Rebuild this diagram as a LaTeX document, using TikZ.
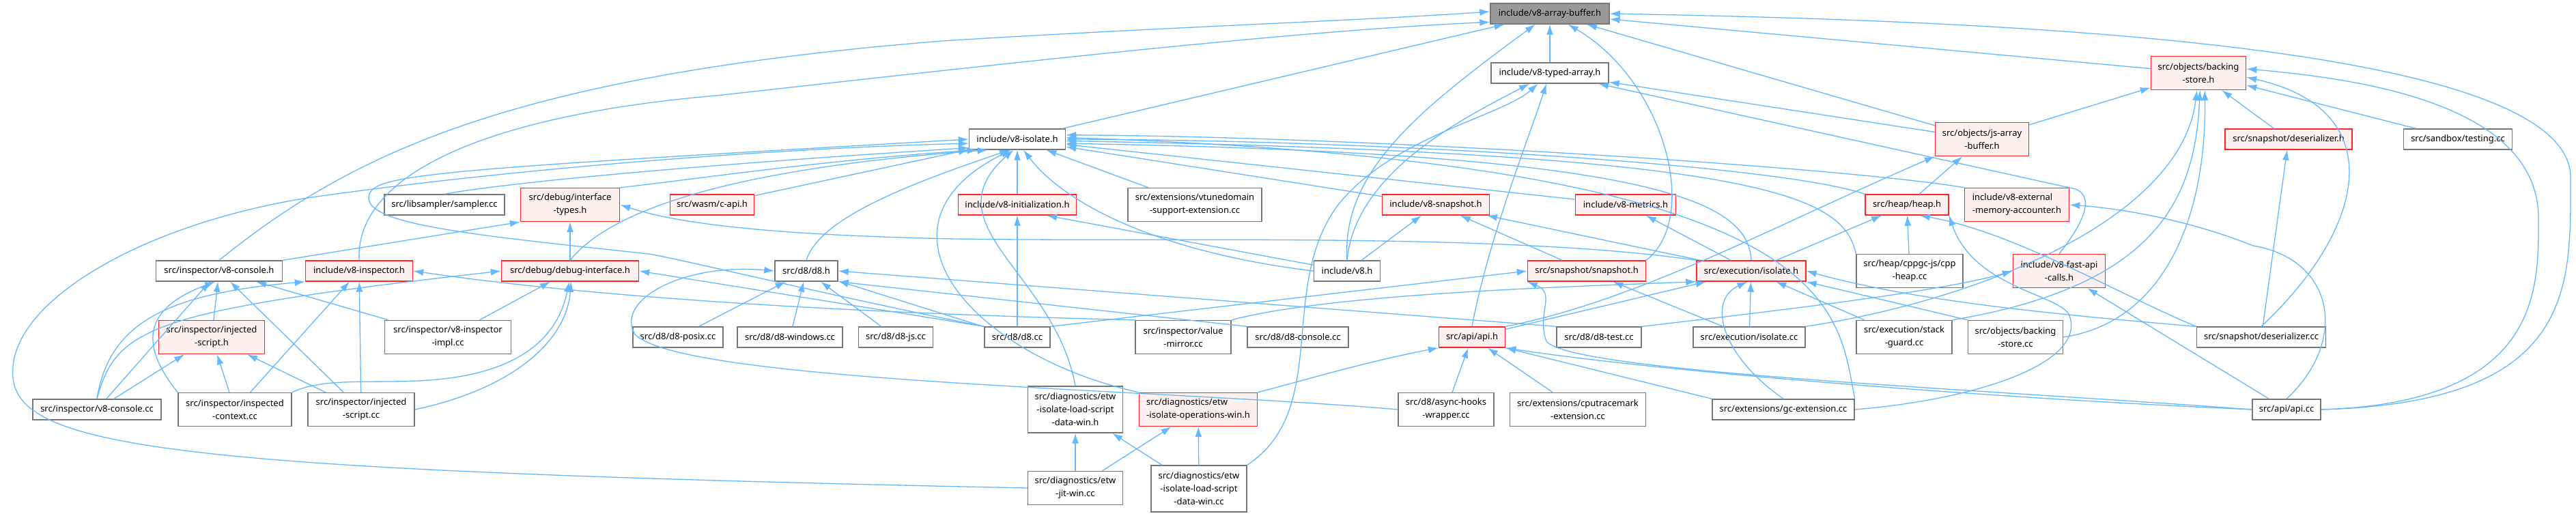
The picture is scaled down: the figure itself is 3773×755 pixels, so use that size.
\documentclass[tikz,border=0pt]{standalone}
\usepackage{fontspec}
\newfontfamily\nf{Noto Sans}
\usetikzlibrary{arrows.meta}
\definecolor{ecol}{HTML}{63B8FF}
\definecolor{gbord}{HTML}{777777}
\definecolor{rbord}{HTML}{FF2626}
\definecolor{rfill}{HTML}{FFF0F0}
\definecolor{afill}{HTML}{999999}
\begin{document}
\begin{tikzpicture}[x=1pt,y=-1pt,
  gbox/.style={draw=gbord,fill=white,line width=1.4pt,inner sep=0pt,align=center,font=\nf\fontsize{13pt}{19pt}\selectfont},
  rbox/.style={gbox,draw=rbord,fill=rfill},
  abox/.style={gbox,draw=gbord,fill=afill},
  edg/.style={draw=ecol,line width=1.3pt,-{Latex[length=15pt,width=10pt]}}]
\useasboundingbox[fill=white] (0,0) rectangle (3773,755);
% nodes
\node[abox,minimum width=174,minimum height=30] (A) at (2270,20) {include/v8-array-buffer.h};
\node[gbox,minimum width=172,minimum height=30] (TA) at (2270,107) {include/v8-typed-array.h};
\node[rbox,minimum width=139,minimum height=49] (OBS) at (3220,107) {src/objects/backing\\-store.h};
\node[gbox,minimum width=141,minimum height=30] (ISO) at (1490,204) {include/v8-isolate.h};
\node[rbox,minimum width=137,minimum height=49] (JSAB) at (2903,204) {src/objects/js-array\\-buffer.h};
\node[rbox,minimum width=186,minimum height=30] (SDES) at (3352,204) {src/snapshot/deserializer.h};
\node[gbox,minimum width=159,minimum height=30] (SBT) at (3600,204) {src/sandbox/testing.cc};
\node[gbox,minimum width=176,minimum height=30] (SAMP) at (651,300) {src/libsampler/sampler.cc};
\node[rbox,minimum width=145,minimum height=49] (ITYP) at (835,300) {src/debug/interface\\-types.h};
\node[rbox,minimum width=123,minimum height=30] (CAPI) at (1043,300) {src/wasm/c-api.h};
\node[rbox,minimum width=173,minimum height=30] (INIT) at (1490,300) {include/v8-initialization.h};
\node[gbox,minimum width=196,minimum height=49] (VTUNE) at (1750,300) {src/extensions/vtunedomain\\-support-extension.cc};
\node[rbox,minimum width=157,minimum height=30] (VSNAP) at (2103,300) {include/v8-snapshot.h};
\node[rbox,minimum width=147,minimum height=30] (METR) at (2381,300) {include/v8-metrics.h};
\node[rbox,minimum width=122,minimum height=30] (HEAP) at (2793,300) {src/heap/heap.h};
\node[rbox,minimum width=153,minimum height=49,align=left] (EMA) at (2954,300) {include/v8-external\\-memory-accounter.h};
\node[gbox,minimum width=185,minimum height=30] (VCONH) at (321,397) {src/inspector/v8-console.h};
\node[rbox,minimum width=157,minimum height=30] (INSPH) at (526,397) {include/v8-inspector.h};
\node[rbox,minimum width=201,minimum height=30] (DBGI) at (835,397) {src/debug/debug-interface.h};
\node[gbox,minimum width=92,minimum height=30] (D8H) at (1181,397) {src/d8/d8.h};
\node[gbox,minimum width=97,minimum height=30] (V8H) at (1973,397) {include/v8.h};
\node[rbox,minimum width=173,minimum height=30] (SNAPH) at (2324,397) {src/snapshot/snapshot.h};
\node[rbox,minimum width=160,minimum height=30] (EISOH) at (2565,397) {src/execution/isolate.h};
\node[gbox,minimum width=156,minimum height=49] (CPPH) at (2797,397) {src/heap/cppgc-js/cpp\\-heap.cc};
\node[rbox,minimum width=135,minimum height=49] (FAC) at (3016,397) {include/v8-fast-api\\-calls.h};
\node[rbox,minimum width=155,minimum height=49] (INJH) at (310,494) {src/inspector/injected\\-script.h};
\node[gbox,minimum width=185,minimum height=49] (IMPL) at (656,494) {src/inspector/v8-inspector\\-impl.cc};
\node[gbox,minimum width=132,minimum height=30] (D8POS) at (993,494) {src/d8/d8-posix.cc};
\node[gbox,minimum width=154,minimum height=30] (D8WIN) at (1157,494) {src/d8/d8-windows.cc};
\node[gbox,minimum width=109,minimum height=30] (D8JS) at (1312,494) {src/d8/d8-js.cc};
\node[gbox,minimum width=96,minimum height=30] (D8CC) at (1490,494) {src/d8/d8.cc};
\node[gbox,minimum width=140,minimum height=49] (VMIR) at (1733,494) {src/inspector/value\\-mirror.cc};
\node[gbox,minimum width=148,minimum height=30] (D8CON) at (1901,494) {src/d8/d8-console.cc};
\node[rbox,minimum width=97,minimum height=30] (APIH) at (2156,494) {src/api/api.h};
\node[gbox,minimum width=124,minimum height=30] (D8TST) at (2342,494) {src/d8/d8-test.cc};
\node[gbox,minimum width=164,minimum height=30] (ISOCC) at (2562,494) {src/execution/isolate.cc};
\node[gbox,minimum width=140,minimum height=49] (STKG) at (2789,494) {src/execution/stack\\-guard.cc};
\node[gbox,minimum width=139,minimum height=49] (BSCC) at (2952,494) {src/objects/backing\\-store.cc};
\node[gbox,minimum width=189,minimum height=30] (DESCC) at (3312,494) {src/snapshot/deserializer.cc};
\node[gbox,minimum width=188,minimum height=30] (VCONCC) at (142,600) {src/inspector/v8-console.cc};
\node[gbox,minimum width=166,minimum height=49] (INSPCTX) at (344,600) {src/inspector/inspected\\-context.cc};
\node[gbox,minimum width=156,minimum height=49] (INJCC) at (529,600) {src/inspector/injected\\-script.cc};
\node[gbox,minimum width=139,minimum height=68] (ETWLH) at (1575,600) {src/diagnostics/etw\\-isolate-load-script\\-data-win.h};
\node[rbox,minimum width=173,minimum height=49,align=left] (ETWOPS) at (1755,600) {src/diagnostics/etw\\-isolate-operations-win.h};
\node[gbox,minimum width=140,minimum height=49] (ASYNC) at (2118,600) {src/d8/async-hooks\\-wrapper.cc};
\node[gbox,minimum width=199,minimum height=49] (CPUT) at (2311,600) {src/extensions/cputracemark\\-extension.cc};
\node[gbox,minimum width=208,minimum height=30] (GCEXT) at (2612,600) {src/extensions/gc-extension.cc};
\node[gbox,minimum width=100,minimum height=30] (APICC) at (3349,600) {src/api/api.cc};
\node[gbox,minimum width=139,minimum height=49] (JITW) at (1575,715) {src/diagnostics/etw\\-jit-win.cc};
\node[gbox,minimum width=140,minimum height=68] (ETWLCC) at (1756,716) {src/diagnostics/etw\\-isolate-load-script\\-data-win.cc};
% into A
\draw[edg] (TA) -- (A);
\draw[edg] (ISO) -- (A);
\draw[edg] (JSAB) -- (A);
\draw[edg] (OBS) -- (A);
\draw[edg] (V8H.north) .. controls (1965,250) and (2080,160) .. (A);
\draw[edg] (SNAPH.north east) .. controls (2490,320) and (2440,120) .. (A);
\draw[edg] (APICC.east) .. controls (3775,590) and (3765,420) .. (3765,260) .. controls (3765,60) and (2900,30) .. (A.east);
\draw[edg] (VCONH.north) .. controls (520,220) and (760,110) .. (1380,60) .. controls (1700,40) and (2000,30) .. (A.178);
\draw[edg] (INSPH.north) .. controls (520,260) and (700,170) .. (1050,140) .. controls (1500,90) and (1900,45) .. (A.188);
% into TA
\draw[edg] (V8H.north) .. controls (1985,250) and (2150,170) .. (TA);
\draw[edg] (APIH.north) .. controls (2180,350) and (2240,200) .. (TA);
\draw[edg] (JSAB) -- (TA);
\draw[edg] (FAC.north) .. controls (3065,310) and (3060,285) .. (3040,277) -- (TA);
\draw[edg] (ETWLCC.north east) .. controls (1950,600) and (1870,420) .. (1960,300) .. controls (2040,200) and (2200,170) .. (TA);
% into OBS
\draw[edg] (JSAB) -- (OBS);
\draw[edg] (SDES) -- (OBS);
\draw[edg] (SBT) -- (OBS);
\draw[edg] (BSCC.east) .. controls (3180,470) and (3232,300) .. (OBS.290);
\draw[edg] (STKG.north east) .. controls (3150,420) and (3215,300) .. (OBS.275);
\draw[edg] (ISOCC.north east) .. controls (2900,440) and (3195,320) .. (OBS.265);
\draw[edg] (DESCC.north) .. controls (3470,330) and (3500,160) .. (OBS.355);
\draw[edg] (APICC.east) .. controls (3725,590) and (3718,420) .. (3718,320) .. controls (3718,150) and (3450,115) .. (OBS.5);
% into JSAB
\draw[edg] (HEAP) -- (JSAB);
\draw[edg] (APIH.north east) .. controls (2400,440) and (2600,330) .. (JSAB.south west);
% into SDES
\draw[edg] (DESCC) -- (SDES);
% into ISO
\draw[edg] (SAMP.north) .. controls (760,265) and (1050,240) .. (ISO.190);
\draw[edg] (ITYP.north east) .. controls (1000,265) and (1200,235) .. (ISO.195);
\draw[edg] (CAPI) -- (ISO);
\draw[edg] (INIT) -- (ISO);
\draw[edg] (VTUNE) -- (ISO);
\draw[edg] (VSNAP) -- (ISO);
\draw[edg] (METR) -- (ISO);
\draw[edg] (HEAP.north west) .. controls (2600,240) and (2000,205) .. (ISO.east);
\draw[edg] (EMA.north west) .. controls (2700,245) and (2000,200) .. (ISO.5);
\draw[edg] (EISOH.north) .. controls (2560,300) and (2450,225) .. (ISO.355);
\draw[edg] (CPPH.north west) .. controls (2700,290) and (2600,225) .. (ISO.358);
\draw[edg] (GCEXT.north east) .. controls (2690,450) and (2700,240) .. (ISO.2);
\draw[edg] (DBGI.north) .. controls (900,300) and (1100,245) .. (ISO.200);
\draw[edg] (D8H.north) .. controls (1200,320) and (1330,270) .. (ISO.235);
\draw[edg] (V8H.west) .. controls (1700,370) and (1560,300) .. (ISO.300);
\draw[edg] (V8H.170) -- (INIT.340);
\draw[edg] (D8CC.north) -- (INIT);
\draw[edg] (ETWLH.north) .. controls (1545,400) and (1360,330) .. (ISO.250);
\draw[edg] (ETWOPS.north west) .. controls (1420,520) and (1260,330) .. (ISO.240);
\draw[edg] (JITW.west) .. controls (300,690) and (40,660) .. (20,560) .. controls (0,450) and (200,330) .. (450,290) .. controls (800,240) and (1200,215) .. (ISO.185);
\draw[edg] (D8CC.north west) .. controls (1200,430) and (1000,380) .. (950,372) .. controls (700,345) and (540,330) .. (540,290) .. controls (540,255) and (620,250) .. (ISO.180);
% into ITYP
\draw[edg] (VCONH.north east) -- (ITYP.south west);
\draw[edg] (DBGI) -- (ITYP);
\draw[edg] (EISOH.north west) .. controls (2200,340) and (1700,355) .. (1400,350) .. controls (1150,345) and (1000,330) .. (ITYP.east);
% into DBGI
\draw[edg] (VCONCC.north) .. controls (170,480) and (220,455) .. (DBGI.west);
\draw[edg] (IMPL) -- (DBGI);
\draw[edg] (INSPCTX.north east) .. controls (480,550) and (560,565) .. (650,555) .. controls (780,540) and (820,480) .. (DBGI.265);
\draw[edg] (INJCC.east) .. controls (750,570) and (830,500) .. (DBGI.275);
\draw[edg] (D8CC.north west) -- (DBGI.east);
% into INSPH
\draw[edg] (VCONCC.north) .. controls (160,470) and (250,430) .. (INSPH.south west);
\draw[edg] (INSPCTX) -- (INSPH);
\draw[edg] (INJCC) -- (INSPH);
\draw[edg] (VMIR.north west) .. controls (1300,460) and (900,440) .. (INSPH.east);
% into VCONH
\draw[edg] (VCONCC) -- (VCONH);
\draw[edg] (INJH) -- (VCONH);
\draw[edg] (INJCC) -- (VCONH);
\draw[edg] (IMPL) -- (VCONH);
\draw[edg] (INSPCTX.north west) .. controls (200,500) and (215,450) .. (VCONH.250);
% into INJH
\draw[edg] (VCONCC) -- (INJH);
\draw[edg] (INSPCTX) -- (INJH);
\draw[edg] (INJCC) -- (INJH);
% into D8H
\draw[edg] (D8POS) -- (D8H);
\draw[edg] (D8WIN) -- (D8H);
\draw[edg] (D8JS) -- (D8H);
\draw[edg] (D8CC) -- (D8H);
\draw[edg] (D8CON.north west) -- (D8H.south east);
\draw[edg] (D8TST.north west) -- (D8H.east);
\draw[edg] (ASYNC.west) .. controls (1700,570) and (1000,560) .. (930,490) .. controls (900,440) and (1000,385) .. (D8H.west);
% into VSNAP, METR, HEAP
\draw[edg] (V8H) -- (VSNAP);
\draw[edg] (SNAPH) -- (VSNAP);
\draw[edg] (EISOH) -- (VSNAP);
\draw[edg] (EISOH) -- (METR);
\draw[edg] (EISOH) -- (HEAP);
\draw[edg] (CPPH) -- (HEAP);
\draw[edg] (GCEXT.east) .. controls (2900,585) and (3060,530) .. (3030,460) .. controls (3010,430) and (2890,420) .. (HEAP.south east);
\draw[edg] (DESCC.north west) .. controls (3100,430) and (2950,340) .. (HEAP.320);
% EMA, FAC
\draw[edg] (APICC.north) .. controls (3440,500) and (3420,380) .. (3300,360) .. controls (3200,320) and (3100,305) .. (EMA.east);
\draw[edg] (APICC) -- (FAC);
\draw[edg] (D8TST.north east) .. controls (2650,450) and (2850,425) .. (FAC.west);
% SNAPH
\draw[edg] (D8CC.north east) -- (SNAPH.west);
\draw[edg] (APICC.west) .. controls (2900,570) and (2300,545) .. (2265,500) .. controls (2250,460) and (2280,430) .. (SNAPH.south west);
\draw[edg] (ISOCC) -- (SNAPH);
% EISOH
\draw[edg] (VMIR.north east) .. controls (1950,430) and (2300,420) .. (EISOH.south west);
\draw[edg] (APIH) -- (EISOH);
\draw[edg] (GCEXT.north) .. controls (2520,520) and (2500,440) .. (EISOH.250);
\draw[edg] (ISOCC) -- (EISOH);
\draw[edg] (STKG) -- (EISOH);
\draw[edg] (BSCC.north west) -- (EISOH.south east);
\draw[edg] (DESCC.north west) .. controls (3000,460) and (2800,440) .. (EISOH.east);
% APIH
\draw[edg] (APICC.west) .. controls (2850,580) and (2400,540) .. (APIH.south east);
\draw[edg] (ASYNC) -- (APIH);
\draw[edg] (CPUT) -- (APIH);
\draw[edg] (GCEXT.north west) -- (APIH.south east);
\draw[edg] (ETWOPS.north east) .. controls (1900,560) and (2000,530) .. (APIH.south west);
% ETW
\draw[edg] (JITW) -- (ETWLH);
\draw[edg] (ETWLCC) -- (ETWLH);
\draw[edg] (JITW) -- (ETWOPS);
\draw[edg] (ETWLCC) -- (ETWOPS);
\end{tikzpicture}
\end{document}
